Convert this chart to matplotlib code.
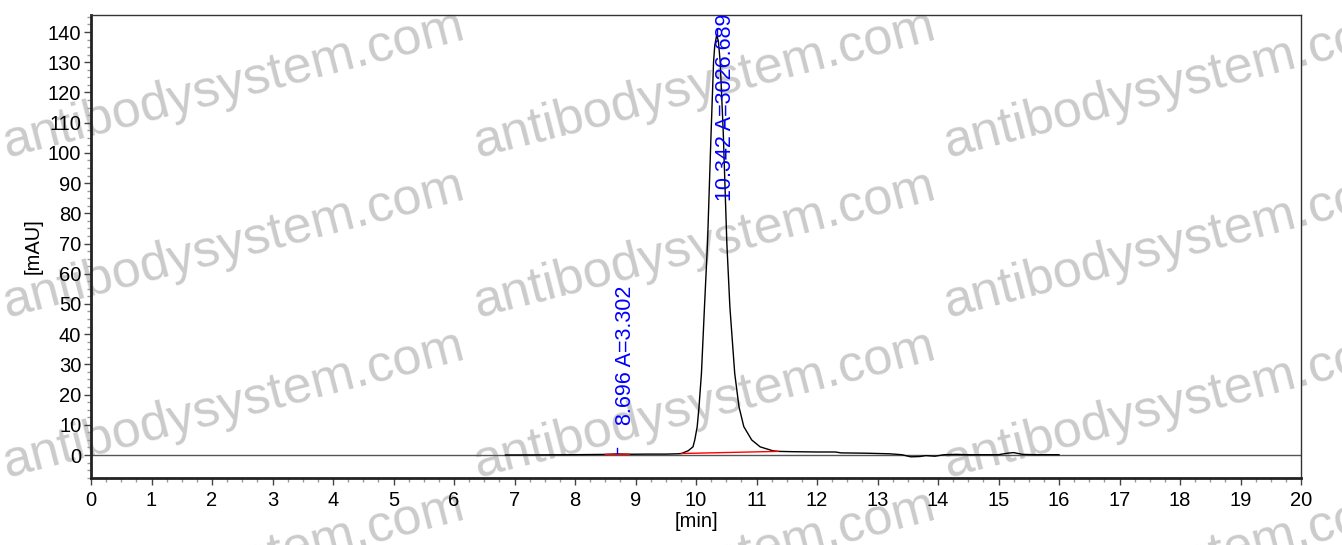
import matplotlib
matplotlib.use('Agg')
import matplotlib.pyplot as plt
from matplotlib.ticker import MultipleLocator
import numpy as np

plt.rcParams['font.family'] = ['Liberation Sans', 'DejaVu Sans']

# Chromatogram trace (time in min, signal in mAU)
time = [6.85, 7.5, 8.0, 8.5, 8.696, 8.9, 9.2, 9.5, 9.7, 9.76, 9.87, 9.95, 9.98,
        10.02, 10.05, 10.09, 10.14, 10.19, 10.25, 10.29, 10.31, 10.342, 10.37,
        10.40, 10.45, 10.51, 10.56, 10.64, 10.71, 10.79, 10.92, 11.06, 11.27,
        11.36, 11.6, 12.0, 12.3, 12.4, 12.8, 13.2, 13.4, 13.55, 13.7, 13.8,
        13.95, 14.1, 14.3, 14.5, 15.0, 15.15, 15.25, 15.4, 15.6, 16.0]
signal = [0.0, 0.05, 0.1, 0.2, 0.35, 0.25, 0.3, 0.3, 0.4, 0.5, 1.4, 2.7, 5.0,
          9.4, 16.0, 27.0, 49.0, 70.0, 107.0, 130.0, 135.5, 139.0, 137.0,
          130.0, 107.0, 70.0, 49.0, 27.0, 16.0, 9.4, 5.0, 2.7, 1.4,
          1.2, 1.1, 1.0, 1.0, 0.7, 0.6, 0.4, 0.1, -0.6, -0.5, -0.2,
          -0.4, 0.1, 0.2, 0.1, 0.1, 0.6, 0.8, 0.2, 0.1, 0.1]

# integrated peaks: retention time, area, baseline start/end
peak_rt = [8.696, 10.342]
peak_area = [3.302, 3026.689]
base_t0 = [8.50, 9.76]
base_t1 = [8.90, 11.36]
base_y0 = [0.2, 0.5]
base_y1 = [0.25, 1.2]
label_y = [10.0, 84.0]

fig = plt.figure(figsize=(13.42, 5.45), dpi=100)
ax = fig.add_axes([91/1342, 1-478/545, 1210/1342, 463/545])
ax.set_facecolor('none')

# watermark
for row_y in [157, 317, 477, 637]:
    for col_x in [7, 478, 948]:
        fig.text(col_x/1342, 1-row_y/545, 'antibodysystem.com', fontsize=37.5,
                 color='#cbcbcb', rotation=14.5, rotation_mode='anchor',
                 ha='left', va='baseline', zorder=-1)

ax.axhline(0, color='#555555', lw=1.0, zorder=1)
ax.plot(time, signal, color='black', lw=1.0, zorder=3)

for i in range(len(peak_rt)):
    apex = np.interp(peak_rt[i], time, signal)
    ax.plot([base_t0[i], base_t1[i]], [base_y0[i], base_y1[i]], color='red', lw=1.0, zorder=4)
    ax.plot([peak_rt[i], peak_rt[i]], [apex + 0.4, apex + 2.0], color='blue', lw=1.0, zorder=4)
    ax.text(peak_rt[i] - 0.03, label_y[i], '{:.3f} A={:.3f}'.format(peak_rt[i], peak_area[i]),
            rotation=90, color='blue', fontsize=15.5, ha='left', va='bottom',
            clip_on=True, zorder=5)

ax.set_xlim(0, 20)
ax.set_ylim(-7.61, 145.63)
ax.xaxis.set_major_locator(MultipleLocator(1))
ax.xaxis.set_minor_locator(MultipleLocator(0.25))
ax.yaxis.set_major_locator(MultipleLocator(10))
ax.yaxis.set_minor_locator(MultipleLocator(2.5))
ax.set_yticks(range(0, 150, 10))

ax.tick_params(which='major', direction='out', length=5, width=1, color='#444444',
               labelsize=14.5, pad=2)
ax.tick_params(which='minor', direction='out', length=3, width=1, color='#999999')
ax.tick_params(axis='x', which='major', pad=4)

for side in ['left', 'bottom']:
    ax.spines[side].set_linewidth(2.0)
    ax.spines[side].set_color('#222222')
for side in ['top', 'right']:
    ax.spines[side].set_linewidth(1.0)
    ax.spines[side].set_color('#333333')

ax.set_xlabel('[min]', fontsize=14.5, labelpad=2)
ax.set_ylabel('[mAU]', fontsize=14.5, labelpad=4)

fig.savefig('out.png', dpi=100)
